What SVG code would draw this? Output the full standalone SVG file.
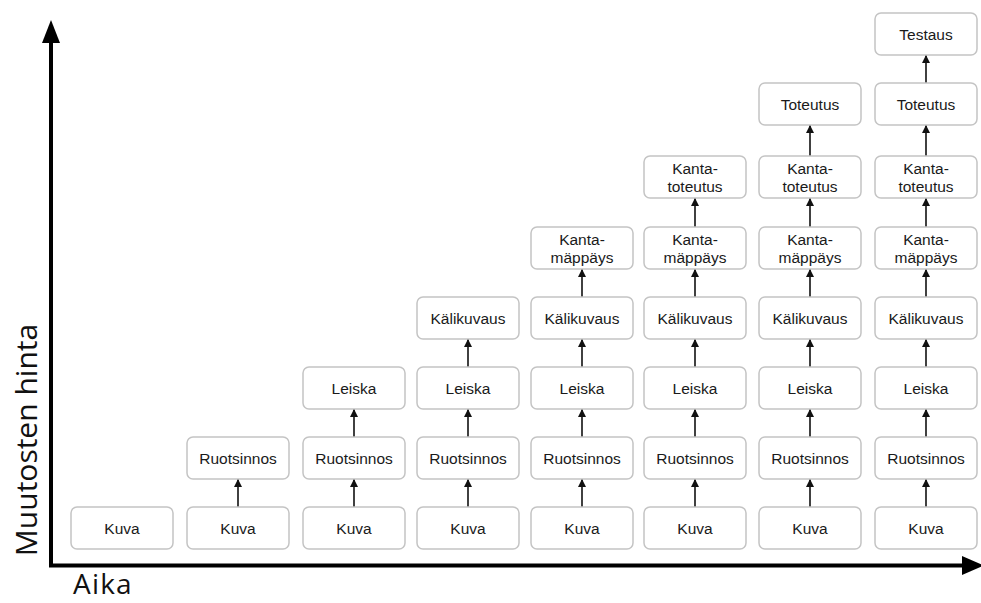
<svg xmlns="http://www.w3.org/2000/svg" width="981" height="603" viewBox="0 0 981 603">
<style>
.box{fill:#fff;stroke:#c4c4c4;stroke-width:1.5}
.t{font-family:"Liberation Sans",Arial,sans-serif;font-size:15.5px;fill:#1a1a1a;text-anchor:middle}
.ax{font-family:"Open Sans","Noto Sans",sans-serif;font-size:30px;fill:#111}
.con{stroke:#111;stroke-width:1.6;fill:none;marker-end:url(#ah)}
</style>
<defs>
<marker id="ah" markerUnits="userSpaceOnUse" markerWidth="8" markerHeight="8" refX="8" refY="4" orient="auto">
<path d="M0,0 L8,4 L0,8 z" fill="#111"/>
</marker>
</defs>
<rect width="981" height="603" fill="#fff"/>
<g id="axes">
<line x1="51" y1="567" x2="51" y2="40" stroke="#000" stroke-width="4"/>
<polygon points="42,43 51,20 60,43" fill="#000"/>
<line x1="49" y1="565.5" x2="970" y2="565.5" stroke="#000" stroke-width="4"/>
<polygon points="962,556 984,565.5 962,575" fill="#000"/>
<text class="ax" transform="translate(37,440) rotate(-90)" text-anchor="middle">Muutosten hinta</text>
<text class="ax" x="73" y="594" style="font-size:28px;letter-spacing:1.2px">Aika</text>
</g>
<g id="connectors">
<line class="con" x1="238" y1="507" x2="238" y2="479"/>
<line class="con" x1="354" y1="507" x2="354" y2="479"/>
<line class="con" x1="354" y1="437" x2="354" y2="409"/>
<line class="con" x1="468" y1="507" x2="468" y2="479"/>
<line class="con" x1="468" y1="437" x2="468" y2="409"/>
<line class="con" x1="468" y1="367" x2="468" y2="339"/>
<line class="con" x1="582" y1="507" x2="582" y2="479"/>
<line class="con" x1="582" y1="437" x2="582" y2="409"/>
<line class="con" x1="582" y1="367" x2="582" y2="339"/>
<line class="con" x1="582" y1="297" x2="582" y2="269"/>
<line class="con" x1="695" y1="507" x2="695" y2="479"/>
<line class="con" x1="695" y1="437" x2="695" y2="409"/>
<line class="con" x1="695" y1="367" x2="695" y2="339"/>
<line class="con" x1="695" y1="297" x2="695" y2="269"/>
<line class="con" x1="695" y1="227" x2="695" y2="198"/>
<line class="con" x1="810" y1="507" x2="810" y2="479"/>
<line class="con" x1="810" y1="437" x2="810" y2="409"/>
<line class="con" x1="810" y1="367" x2="810" y2="339"/>
<line class="con" x1="810" y1="297" x2="810" y2="269"/>
<line class="con" x1="810" y1="227" x2="810" y2="198"/>
<line class="con" x1="810" y1="156" x2="810" y2="125"/>
<line class="con" x1="926" y1="507" x2="926" y2="479"/>
<line class="con" x1="926" y1="437" x2="926" y2="409"/>
<line class="con" x1="926" y1="367" x2="926" y2="339"/>
<line class="con" x1="926" y1="297" x2="926" y2="269"/>
<line class="con" x1="926" y1="227" x2="926" y2="198"/>
<line class="con" x1="926" y1="156" x2="926" y2="125"/>
<line class="con" x1="926" y1="83" x2="926" y2="55"/>
</g>
<!-- column 1 -->
<g id="c1-kuva"><rect class="box" x="71" y="507" width="102" height="42" rx="6"/><text class="t" x="122" y="533.5">Kuva</text></g>
<!-- column 2 -->
<g id="c2-kuva"><rect class="box" x="187" y="507" width="102" height="42" rx="6"/><text class="t" x="238" y="533.5">Kuva</text></g>
<g id="c2-ruotsinnos"><rect class="box" x="187" y="437" width="102" height="42" rx="6"/><text class="t" x="238" y="463.5">Ruotsinnos</text></g>
<!-- column 3 -->
<g id="c3-kuva"><rect class="box" x="303" y="507" width="102" height="42" rx="6"/><text class="t" x="354" y="533.5">Kuva</text></g>
<g id="c3-ruotsinnos"><rect class="box" x="303" y="437" width="102" height="42" rx="6"/><text class="t" x="354" y="463.5">Ruotsinnos</text></g>
<g id="c3-leiska"><rect class="box" x="303" y="367" width="102" height="42" rx="6"/><text class="t" x="354" y="393.5">Leiska</text></g>
<!-- column 4 -->
<g id="c4-kuva"><rect class="box" x="417" y="507" width="102" height="42" rx="6"/><text class="t" x="468" y="533.5">Kuva</text></g>
<g id="c4-ruotsinnos"><rect class="box" x="417" y="437" width="102" height="42" rx="6"/><text class="t" x="468" y="463.5">Ruotsinnos</text></g>
<g id="c4-leiska"><rect class="box" x="417" y="367" width="102" height="42" rx="6"/><text class="t" x="468" y="393.5">Leiska</text></g>
<g id="c4-kalikuvaus"><rect class="box" x="417" y="297" width="102" height="42" rx="6"/><text class="t" x="468" y="323.5">Kälikuvaus</text></g>
<!-- column 5 -->
<g id="c5-kuva"><rect class="box" x="531" y="507" width="102" height="42" rx="6"/><text class="t" x="582" y="533.5">Kuva</text></g>
<g id="c5-ruotsinnos"><rect class="box" x="531" y="437" width="102" height="42" rx="6"/><text class="t" x="582" y="463.5">Ruotsinnos</text></g>
<g id="c5-leiska"><rect class="box" x="531" y="367" width="102" height="42" rx="6"/><text class="t" x="582" y="393.5">Leiska</text></g>
<g id="c5-kalikuvaus"><rect class="box" x="531" y="297" width="102" height="42" rx="6"/><text class="t" x="582" y="323.5">Kälikuvaus</text></g>
<g id="c5-kantamappays"><rect class="box" x="531" y="227" width="102" height="42" rx="6"/><text class="t" x="582" y="244.5">Kanta-</text><text class="t" x="582" y="262.5">mäppäys</text></g>
<!-- column 6 -->
<g id="c6-kuva"><rect class="box" x="644" y="507" width="102" height="42" rx="6"/><text class="t" x="695" y="533.5">Kuva</text></g>
<g id="c6-ruotsinnos"><rect class="box" x="644" y="437" width="102" height="42" rx="6"/><text class="t" x="695" y="463.5">Ruotsinnos</text></g>
<g id="c6-leiska"><rect class="box" x="644" y="367" width="102" height="42" rx="6"/><text class="t" x="695" y="393.5">Leiska</text></g>
<g id="c6-kalikuvaus"><rect class="box" x="644" y="297" width="102" height="42" rx="6"/><text class="t" x="695" y="323.5">Kälikuvaus</text></g>
<g id="c6-kantamappays"><rect class="box" x="644" y="227" width="102" height="42" rx="6"/><text class="t" x="695" y="244.5">Kanta-</text><text class="t" x="695" y="262.5">mäppäys</text></g>
<g id="c6-kantatoteutus"><rect class="box" x="644" y="156" width="102" height="42" rx="6"/><text class="t" x="695" y="173.5">Kanta-</text><text class="t" x="695" y="191.5">toteutus</text></g>
<!-- column 7 -->
<g id="c7-kuva"><rect class="box" x="759" y="507" width="102" height="42" rx="6"/><text class="t" x="810" y="533.5">Kuva</text></g>
<g id="c7-ruotsinnos"><rect class="box" x="759" y="437" width="102" height="42" rx="6"/><text class="t" x="810" y="463.5">Ruotsinnos</text></g>
<g id="c7-leiska"><rect class="box" x="759" y="367" width="102" height="42" rx="6"/><text class="t" x="810" y="393.5">Leiska</text></g>
<g id="c7-kalikuvaus"><rect class="box" x="759" y="297" width="102" height="42" rx="6"/><text class="t" x="810" y="323.5">Kälikuvaus</text></g>
<g id="c7-kantamappays"><rect class="box" x="759" y="227" width="102" height="42" rx="6"/><text class="t" x="810" y="244.5">Kanta-</text><text class="t" x="810" y="262.5">mäppäys</text></g>
<g id="c7-kantatoteutus"><rect class="box" x="759" y="156" width="102" height="42" rx="6"/><text class="t" x="810" y="173.5">Kanta-</text><text class="t" x="810" y="191.5">toteutus</text></g>
<g id="c7-toteutus"><rect class="box" x="759" y="83" width="102" height="42" rx="6"/><text class="t" x="810" y="109.5">Toteutus</text></g>
<!-- column 8 -->
<g id="c8-kuva"><rect class="box" x="875" y="507" width="102" height="42" rx="6"/><text class="t" x="926" y="533.5">Kuva</text></g>
<g id="c8-ruotsinnos"><rect class="box" x="875" y="437" width="102" height="42" rx="6"/><text class="t" x="926" y="463.5">Ruotsinnos</text></g>
<g id="c8-leiska"><rect class="box" x="875" y="367" width="102" height="42" rx="6"/><text class="t" x="926" y="393.5">Leiska</text></g>
<g id="c8-kalikuvaus"><rect class="box" x="875" y="297" width="102" height="42" rx="6"/><text class="t" x="926" y="323.5">Kälikuvaus</text></g>
<g id="c8-kantamappays"><rect class="box" x="875" y="227" width="102" height="42" rx="6"/><text class="t" x="926" y="244.5">Kanta-</text><text class="t" x="926" y="262.5">mäppäys</text></g>
<g id="c8-kantatoteutus"><rect class="box" x="875" y="156" width="102" height="42" rx="6"/><text class="t" x="926" y="173.5">Kanta-</text><text class="t" x="926" y="191.5">toteutus</text></g>
<g id="c8-toteutus"><rect class="box" x="875" y="83" width="102" height="42" rx="6"/><text class="t" x="926" y="109.5">Toteutus</text></g>
<g id="c8-testaus"><rect class="box" x="875" y="13" width="102" height="42" rx="6"/><text class="t" x="926" y="39.5">Testaus</text></g>
</svg>
